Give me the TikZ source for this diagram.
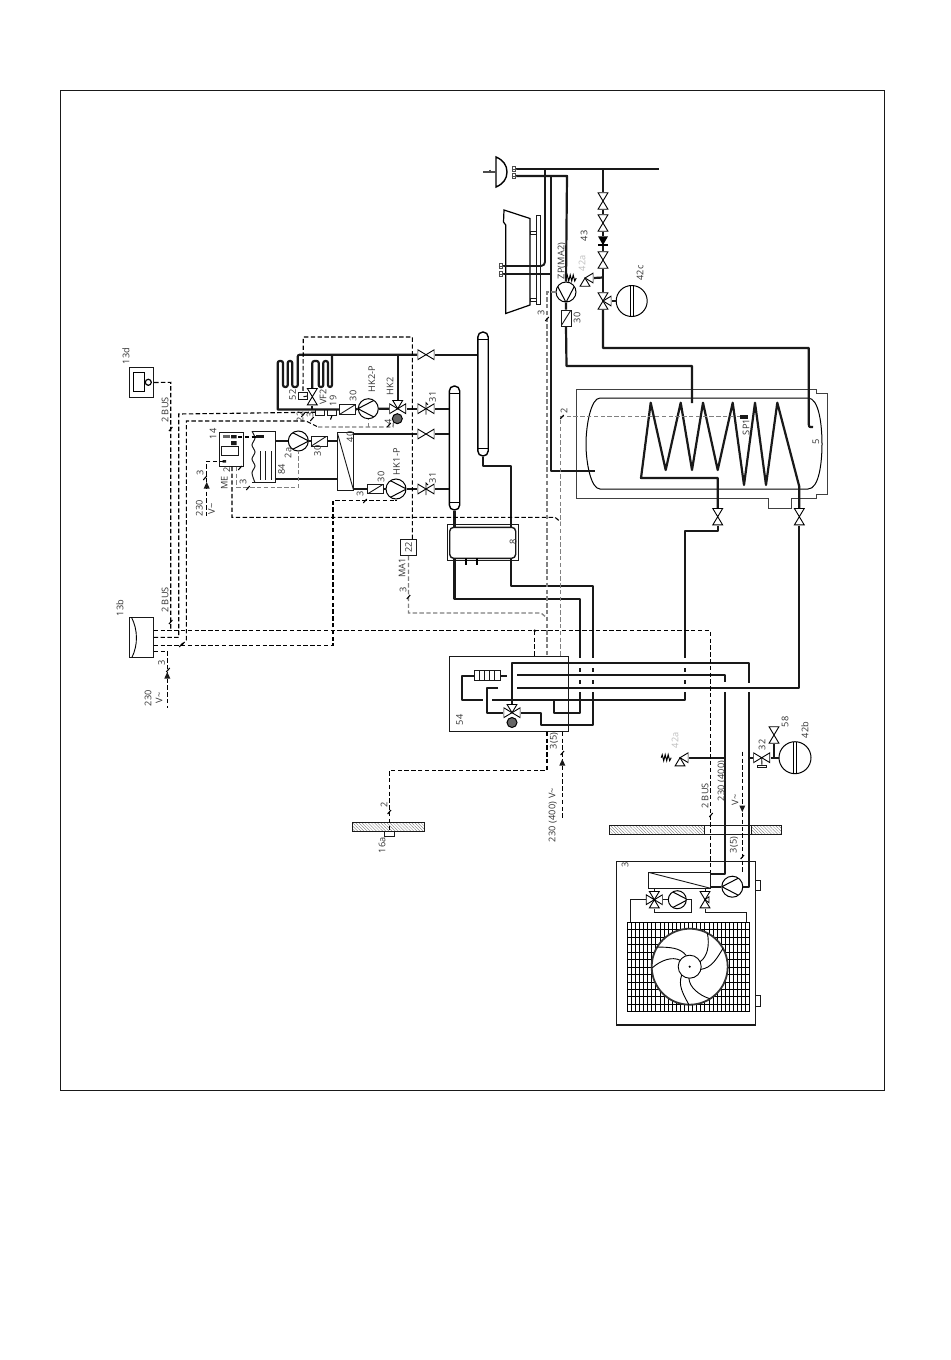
\documentclass[tikz,border=0pt]{standalone}
\usepackage{fontspec}
\setmainfont[LetterSpace=2]{Open Sans}
\usetikzlibrary{patterns.meta}
\tikzset{
    pipe/.style={line width=1.1pt,black!90,line join=round},
    thinpipe/.style={line width=.5pt,black!90},
    wire/.style={line width=.55pt,black,dash pattern=on 2.2pt off 1.2pt},
    greywire/.style={line width=.65pt,black!50,dash pattern=on 2.2pt off 1.2pt},
    lbl/.style={rotate=90,inner sep=0,font=\fontsize{4.6}{5}\selectfont,text=black!80},
    box/.style={draw,black!90,line width=.45pt,inner sep=0},
    valve/.style={inner sep=0,minimum size=8.4pt,path picture={
        \coordinate (c) at (path picture bounding box.center);
        \foreach \ang in {#1} {\draw[line width=.45pt,fill=white] (c) ++(\ang+31:4.8pt) -- (c) -- ++(\ang-31:4.8pt) -- cycle;}}},
    pump/.style={circle,draw,fill=white,line width=.5pt,inner sep=0,minimum size=10pt,path picture={
        \coordinate (c) at (path picture bounding box.center);
        \draw[line width=.5pt] ([shift={(#1+125:5.2pt)}]c) -- ([shift={(#1:5.2pt)}]c) -- ([shift={(#1-125:5.2pt)}]c);}},
    motor/.style={circle,draw,fill=black!60,line width=.5pt,inner sep=0,minimum size=5pt},
    diag/.style={box,fill=white,path picture={\draw[line width=.45pt] (path picture bounding box.south west) -- (path picture bounding box.north east);}},
    diagb/.style={box,fill=white,path picture={\draw[line width=.45pt] (path picture bounding box.north west) -- (path picture bounding box.south east);}},
    capsule/.style={draw,line width=.7pt,fill=white,rounded corners=2.5pt,inner sep=0,minimum width=5.2pt,minimum height=62pt,path picture={
        \draw[line width=.4pt] ([yshift=-3.8pt]path picture bounding box.north west) -- ([yshift=-3.8pt]path picture bounding box.north east);
        \draw[line width=.4pt] ([yshift=3.8pt]path picture bounding box.south west) -- ([yshift=3.8pt]path picture bounding box.south east);}},
    expv/.style={circle,draw,line width=.5pt,inner sep=0,path picture={
        \draw[line width=.4pt] ([xshift=-.6pt]path picture bounding box.north) -- ([xshift=-.6pt]path picture bounding box.south);
        \draw[line width=.4pt] ([xshift=.6pt]path picture bounding box.north) -- ([xshift=.6pt]path picture bounding box.south);}},
    chkv/.style={inner sep=0,minimum width=5pt,minimum height=4.4pt,path picture={
        \fill (path picture bounding box.north west) -- (path picture bounding box.north east) -- (path picture bounding box.south) -- cycle;
        \draw[line width=.8pt] (path picture bounding box.south west) -- (path picture bounding box.south east);}},
    heat/.style={box,fill=white,minimum width=12.8pt,minimum height=5pt,path picture={
        \foreach \s in {-3.8,-1.3,1.3,3.8} {\draw[line width=.35pt] ([xshift=\s pt]path picture bounding box.north) -- ([xshift=\s pt]path picture bounding box.south);}}},
    wall/.style={box,minimum height=4.4pt,pattern={Lines[angle=-45,distance=1.1pt,line width=.15pt]},pattern color=black!55},
    wtick/.pic={\draw[line width=.55pt] (-1.7,2) -- (1.7,-2);},
    wtri/.pic={\fill[black!90] (-3,2.5) -- (3,2.5) -- (0,-4) -- cycle;},
    spring/.pic={\draw[line width=.5pt] (0,0) -- (-1.5,3) -- (-3,-3) -- (-4.5,3) -- (-6,-3) -- (-7.5,3) -- (-9,-3) -- (-10,0);}
}
\begin{document}
\begin{tikzpicture}[x=.5pt,y=-.5pt]
    \path[use as bounding box,fill=white] (0,0) rectangle (950,1360);
    \node[box,line width=.5pt,minimum width=412.3pt,minimum height=500pt] (frame) at (472.3,590) {};

    \node[box] (controlb) at (141.3,637.3) [minimum width=12pt,minimum height=20pt] {};
    \node[box] (controld) at (141.5,382.5) [minimum width=12.2pt,minimum height=15.2pt] {};
    \node[box,fill=white] (sensor) at (408.5,547.5) [minimum width=8pt,minimum height=8pt] {};
    \node[box,minimum width=59.5pt,minimum height=37.4pt] (cbox) at (508.8,693.7) {};
    \node[box,minimum width=12.2pt,minimum height=17.2pt] (box14) at (231.5,449.5) {};
    \node[box,minimum width=8.3pt,minimum height=4.6pt] (inner14) at (230,451.3) {};
    \fill[black!60] (223.3,435) rectangle (230,438.3);
    \fill[black!90] (231,435) rectangle (236.7,438.3) (231,441) rectangle (236.7,445) (222.7,460) rectangle (226,462.7);

    \draw[thinpipe] (252,431.3) -- (275.7,431.3) -- (275.7,482.7) -- (252,482.7);
    \draw[thinpipe] plot[smooth] coordinates {(252,431.3) (255,438) (252,445) (255,452) (252,459) (255,466) (252,473) (255,482.7)};
    \fill[black!90] (255.7,435) rectangle (264,438.3);
    \foreach \xv in {260,265,271} {\draw[thinpipe] (\xv,451) -- (\xv,480);}

    \draw[line width=.4pt,black!75] (576.7,389) -- (816.7,389) -- (816.7,393.5) -- (827.7,393.5) -- (827.7,494.3) -- (816.7,494.3) -- (816.7,498.7) -- (791,498.7) -- (791,508) -- (768,508) -- (768,498.7) -- (576.7,498.7) -- cycle;
    \draw[line width=.5pt] (600,398) -- (808,398) .. controls (819,398) and (822,425) .. (822,444) .. controls (822,463) and (819,489) .. (808,489) -- (600,489) .. controls (591,489) and (586,463) .. (586,444) .. controls (586,425) and (591,398) .. (600,398) -- cycle;

    \node[capsule] (capu) at (483,394) {};
    \node[capsule] (capl) at (454.5,448) {};
    \node[box,minimum width=35.5pt,minimum height=17.8pt] (bufo) at (482.8,542.2) {};
    \node[box,line width=.7pt,rounded corners=2pt,minimum width=33pt,minimum height=15.5pt] (buf) at (482.7,542.8) {};
    \draw[line width=.8pt] (465.7,558.3) -- (465.7,565) (476.7,558.3) -- (476.7,565);

    \draw[line width=.6pt] (504,210) -- (530,218.5) -- (530,305) -- (505.7,313.5) -- (505.7,225) -- (503.5,222) -- cycle;
    \node[box,minimum width=2pt,minimum height=44.7pt] (plate) at (538,259.7) {};
    \node[box,minimum width=3pt,minimum height=1.5pt] (stuba) at (533,232.5) {};
    \node[box,minimum width=3pt,minimum height=1.5pt] (stubb) at (533,299.5) {};
    \draw[line width=.7pt] (496,157) .. controls (503,160) and (507,165) .. (507,172) .. controls (507,179) and (503,184) .. (496,187) -- cycle;
    \draw[line width=.9pt,black!70] (483,172) -- (496,172) (490,169.5) -- (490,172);

    \node[valve={90,270}] (vcolda) at (603,201) {};
    \node[valve={90,270}] (vcoldb) at (603,223) {};
    \node[chkv] (vcheck) at (603,240.7) {};
    \node[valve={90,270}] (vcoldc) at (603,260) {};
    \node[valve={90,270,0}] (vexpc) at (603,301) {};
    \node[expv,minimum size=15.5pt] (expc) at (631.7,301) {};
    \node[valve={0,270}] (vsafec) at (585,278) {};
    \node[pump=-90] (pzp) at (566,292) {};
    \node[diag,minimum width=5pt,minimum height=8pt] (czp) at (566,318) {};
    \coordinate (coldl) at (515,169);
    \coordinate (coldr) at (659,169);
    \coordinate (hotl) at (515,176);

    \draw[pipe] (coldl) -- (coldr);
    \draw[pipe] (603,169) -- (vcolda.north) (vcolda.south) -- (vcoldb.north) (vcoldb.south) -- (vcheck.north) (vcheck.south) -- (vcoldc.north) (vcoldc.south) -- (vexpc.north);
    \draw[pipe] (vexpc.south) -- (603,348) -- (808.7,348) -- (808.7,424) .. controls (808.7,427) .. (813,427);
    \draw[pipe] (vexpc.east) -- (expc.west);
    \draw[pipe] (603,277.5) -- (vsafec.east);
    \draw[pipe] (hotl) -- (567,176) -- (pzp.north);
    \draw[pipe] (pzp.south) -- (czp.north) (czp.south) -- (566.5,366) -- (692,366) -- (692,403);
    \draw[pipe] (551,176) -- (551,471) -- (595,471);
    \draw[pipe] (503,274) -- (551,274);
    \draw[pipe,line width=.95pt,rounded corners=2pt] (503,266) -- (545,266) -- (545,169);
    \foreach \tapx/\tapy in {514/169,514/176,501/266,501/274} {\draw[line width=.4pt,black!70,fill=white] (\tapx-1.2,\tapy-2.5) rectangle (\tapx+1.2,\tapy+2.5); \draw[line width=.5pt,black!70] (\tapx-2.5,\tapy) -- (\tapx+2.5,\tapy);}
    \path (vsafec.west) pic {spring};

    \node[valve={90,270}] (vcoila) at (717.7,516.7) {};
    \node[valve={90,270}] (vcoilb) at (799.3,516.7) {};
    \draw[pipe] (vcoila.north) -- (717.7,478) -- (641,478) -- (650.7,402.7) -- (665.7,470) -- (680.7,402.7) -- (692,470) -- (703,402.7) -- (717.7,470) -- (732.7,402.7) -- (744,485) -- (755,402.7) -- (766,485) -- (777.3,402.7) -- (799.3,486.7) -- (vcoilb.north);
    \draw[pipe] (vcoila.south) -- (717.7,531) -- (685,531) -- (685,658);
    \draw[pipe] (vcoilb.south) -- (799.3,687.7) -- (517,687.7);

    \node[valve={0,180}] (vhktop) at (426,354.7) {};
    \node[valve={0,180}] (vhkb) at (426,408.7) {};
    \node[valve={0,180}] (vhkm) at (426,434) {};
    \node[valve={0,180}] (vhkl) at (426,489) {};
    \draw[line width=.4pt] (vhkb.center) -- ++(0,-6) -- ++(2,2) (vhkb.center) -- ++(0,6) (vhkl.center) -- ++(0,-6) -- ++(2,2) (vhkl.center) -- ++(0,6);
    \node[valve={0,180,90}] (vmix) at (397.7,408.7) {};
    \node[motor] (mmix) at (397.3,418.7) {};
    \node[valve={90,270}] (vftwo) at (312.3,396.7) {};
    \node[box,fill=white,minimum width=4.3pt,minimum height=3.3pt] (senstwo) at (303,396) {};
    \node[box,fill=white,minimum width=4.3pt,minimum height=2.8pt] (senstra) at (320,412.2) {};
    \node[box,fill=white,minimum width=4.3pt,minimum height=2.8pt] (sensflow) at (332,412.2) {};
    \node[pump=180] (phktwo) at (368.3,408.7) {};
    \node[pump=0] (phkone) at (396,489) {};
    \node[pump=0] (ptwoa) at (298.3,441) {};
    \node[diag,minimum width=7.8pt,minimum height=4.8pt] (chktwo) at (347.5,409.5) {};
    \node[diag,minimum width=7.8pt,minimum height=4.8pt] (chkone) at (375.5,489) {};
    \node[diag,minimum width=7.8pt,minimum height=5pt] (chkstor) at (319.2,441) {};
    \node[diagb,minimum width=8.2pt,minimum height=29pt] (hxfour) at (345.5,461.7) {};

    \draw[pipe] (vhkb.west) -- (vmix.east) (vhkb.east) -- (capl.west |- vhkb.east);
    \draw[pipe] (vmix.west) -- (phktwo.east) (phktwo.west) -- (chktwo.east);
    \draw[pipe,rounded corners=1pt] (chktwo.west) [sharp corners] -- (277.7,409.5) [rounded corners=1pt] -- (277.7,361) -- (283,361) -- (283,387) -- (287.7,387) -- (287.7,361) -- (292.3,361) -- (292.3,387) -- (297.7,387) -- (297.7,354.7) [sharp corners] -- (vhktop.west);
    \draw[pipe] (vhktop.east) -- (capu.west |- vhktop.east);
    \draw[pipe] (397.7,354.7) -- (vmix.north);
    \draw[pipe] (vftwo.south) -- (312.3,409.5);
    \draw[pipe,rounded corners=1pt] (vftwo.north) -- (312.3,361) -- (318.7,361) -- (318.7,387) -- (323.3,387) -- (323.3,361) -- (328,361) -- (328,387) -- (332,387) -- (332,354.7);
    \draw[thinpipe] (senstwo.east) -- (vftwo.west);
    \draw[pipe] (vhkm.east) -- (capl.west |- vhkm.east);
    \draw[pipe] (353.7,434) -- (vhkm.west);
    \draw[pipe] (353.7,489) -- (chkone.west) (chkone.east) -- (phkone.west) (phkone.east) -- (vhkl.west) (vhkl.east) -- (capl.west |- vhkl.east);
    \draw[pipe] (275.7,441) -- (ptwoa.west) (ptwoa.east) -- (chkstor.west) (chkstor.east) -- (337.3,441);
    \draw[pipe] (275.7,479) -- (337.3,479);

    \draw[pipe] (capl.south) -- (capl.south |- buf.north);
    \draw[pipe] (capu.south) -- (483,466) -- (511,466) -- (511,527.3);
    \draw[pipe] (454.5,558.3) -- (454.5,599) -- (580,599) -- (580,658);
    \draw[pipe] (511,558.3) -- (511,586) -- (593,586) -- (593,658);
    \foreach \xv in {580,593,685} {\draw[pipe] (\xv,668) -- (\xv,672) (\xv,680) -- (\xv,684);}

    \node[heat] (heater) at (487.2,675.7) {};
    \node[valve={0,180,90}] (vfour) at (512,712.7) {};
    \node[motor] (mfour) at (512,722.5) {};
    \draw[pipe] (vfour.north) -- (512,662.7) -- (749,662.7) -- (749,683);
    \draw[pipe] (517,675) -- (725,675) -- (725,682);
    \draw[pipe] (heater.east) -- (507,675.7);
    \draw[pipe] (heater.west) -- (462,675.7) -- (462,700) -- (483,700);
    \draw[pipe] (492,700) -- (685,700) -- (685,692);
    \draw[pipe] (498,687.7) -- (487,687.7) -- (487,712.7) -- (vfour.west);
    \draw[pipe] (vfour.east) -- (541,712.7) -- (541,725) -- (593,725) -- (593,692);
    \draw[pipe] (554,700) -- (554,712.7) -- (580,712.7) -- (580,692);

    \node[valve={0,270}] (vsafeb) at (680,757.7) {};
    \node[valve={0,180}] (vexpb) at (761.7,757.7) {};
    \node[valve={90,270}] (vdrain) at (774,735) {};
    \node[expv,minimum size=16pt] (expb) at (795,757.7) {};
    \node[box,minimum width=4.2pt,minimum height=1.4pt] (vbase) at (761.9,766.4) {};
    \draw[line width=.45pt] (vexpb.center) -- (vbase.north);
    \draw[pipe] (vsafeb.east) -- (725,757.7);
    \draw[pipe] (749,757.7) -- (vexpb.west) (vexpb.east) -- (expb.west);
    \draw[pipe] (vdrain.south) -- (774,757.7);
    \path (vsafeb.west) pic {spring};

    \node[wall,minimum width=36pt] (wallsens) at (388.3,826.8) {};
    \node[box,minimum width=5pt,minimum height=2.5pt] (sensout) at (389.3,833.8) {};
    \node[wall,minimum width=47.5pt] (wallla) at (656.8,830) {};
    \node[box,minimum width=23.5pt,minimum height=4.4pt] (wallgap) at (727.8,830) {};
    \node[wall,minimum width=15pt] (walllb) at (766.3,830) {};

    \node[box,line width=.55pt,minimum width=69.3pt,minimum height=81.8pt] (unit) at (686,943.2) {};
    \node[box,minimum width=2.4pt,minimum height=5pt] (lugup) at (757.6,885.7) {};
    \node[box,minimum width=2.4pt,minimum height=5.4pt] (lugdn) at (757.6,1000.7) {};
    \node[diagb,minimum width=31.2pt,minimum height=8pt] (cond) at (679.5,880.3) {};
    \node[pump=180] (punit) at (732.3,886.7) [minimum size=10.5pt] {};
    \node[valve={0,90,180,270}] (vrev) at (654.3,899.7) {};
    \node[pump=0] (comp) at (677.3,899.7) [minimum size=9pt] {};
    \node[valve={90,270}] (vexp) at (705,899.7) {};
    \draw[line width=.4pt] (vexp.center) -- ++(4,-3) -- ++(0,6) -- cycle;
    \draw[pipe] (725,692) -- (725,874) -- (710.7,874);
    \draw[pipe] (749,692) -- (749,886.7) -- (punit.east);
    \draw[pipe] (punit.west) -- (710.7,886.7);
    \draw[thinpipe] (654.3,888.3) -- (vrev.north) (vrev.east) -- (comp.west);
    \draw[thinpipe] (vrev.south) -- (654.3,912.3) -- (691.7,912.3) -- (691.7,899.7) -- (comp.east);
    \draw[thinpipe] (vrev.west) -- (630.7,899.7) -- (630.7,922.3);
    \draw[thinpipe] (705,888.3) -- (vexp.north);
    \draw[thinpipe] (vexp.south) -- (705,912.3) -- (746.7,912.3) -- (746.7,922.3);
    \foreach \i in {0,...,30} {\draw[line width=.4pt] (627.3+\i*4.08,922.3) -- (627.3+\i*4.08,1011.7);}
    \foreach \j in {0,...,12} {\draw[line width=.4pt] (627.3,922.3+\j*7.45) -- (749.7,922.3+\j*7.45);}
    \node[circle,draw,black!80,fill=white,line width=.9pt,inner sep=0,minimum size=38pt] (fan) at (689.7,966.7) {};
    \begin{scope}[shift={(fan.center)}]
        \foreach \r in {0,120,240} {
            \draw[line width=.45pt,rotate=\r] (11.3,2.7) .. controls (22,1) and (27,-8) .. (33.3,-18.3);
            \draw[line width=.45pt,rotate=\r] (10.3,-5) .. controls (18,-10) and (20,-22) .. (17.7,-33.3);
        }
    \end{scope}
    \node[circle,draw,fill=white,line width=.45pt,inner sep=0,minimum size=11.5pt] (hub) at (fan.center) {};
    \fill (fan.center) circle (.6pt);

    \node[draw,inner sep=0,minimum width=5.5pt,minimum height=9.3pt,line width=.45pt] (displayd) at (138.8,382) {};
    \node[circle,draw,fill=white,inner sep=0,minimum size=3pt,line width=.6pt] (knobd) at (148.3,382.3) {};
    \draw[line width=.45pt] (131.5,617.3) .. controls (138,630) and (138,645) .. (132,657.3);

    \draw[wire] (controld.east) -- (170.7,382.3) -- (170.7,630.7);
    \draw[wire] (controlb.east |- 0,630.7) -- (710.3,630.7) -- (710.3,872);
    \draw[wire] (controlb.east |- 0,637.3) -- (178.7,637.3) -- (178.7,414) -- (senstra.west);
    \draw[wire] (controlb.east |- 0,645.3) -- (333,645.3) -- (333,500.3) -- (396,500.3) -- (phkone.south);
    \draw[wire] (181.7,645.3) -- (186.3,640) -- (186.3,421) -- (306,421) -- (318,427);
    \draw[greywire] (318,427) -- (393,427) -- (mmix.south west);
    \draw[greywire] (368.3,427) -- (phktwo.south);
    \draw[wire] (sensflow.south) -- (330,421);
    \draw[wire] (sensor.north -| 412.3,0) -- (412.3,337) -- (303.3,337) -- (senstwo.north);
    \draw[wire] (232,466.7) -- (232,517.3) -- (555,517.3) -- (560.7,522);
    \draw[greywire] (741,416.7) -- (560.7,416.7) -- (560.7,656.3);
    \draw[greywire] (pzp.west) -- (547,292) -- (547,656.3);
    \draw[greywire] (sensor.south) -- (408.5,613) -- (541,613) -- (547,618);
    \draw[wire] (534.7,630.7) -- (534.7,656.3);
    \fill (534.7,630.7) circle (.7pt);
    \draw[wire] (224,461.3) -- (206.7,461.3) -- (206.7,517);
    \draw[greywire] (236.7,466.7) -- (236.7,487.3) -- (298.3,487.3) -- (ptwoa.south);
    \draw[wire] (238,437) -- (255.7,437);
    \draw[wire] (controlb.east |- 0,651.3) -- (167.3,651.3) -- (167.3,707.7);
    \draw[wire] (547,731.7) -- (547,770.3) -- (389.3,770.3) -- (sensout.north);
    \draw[wire] (562.3,731.7) -- (562.3,819);
    \draw[wire] (742.3,751.7) -- (742.3,874);
    \fill[black!90] (740,414.5) rectangle (748,418.8);

    \path (167.3,676) pic {wtri} (206.7,486) pic {wtri} (562.3,763) pic {wtri} (742.3,808) pic[rotate=180] {wtri};
    \foreach \tx/\ty in {170.7/429,240/468,248/488,205/478,365/501,168/670,170.7/622,181/645,389.3/812,562.3/753,711/815,742.3/857,547/319,408.5/597,562/417,303/415,312/419,389/425} {\path (\tx,\ty) pic {wtick};}

    \node[lbl] (lthd) at (126,356) {13d};
    \node[lbl] (lbusd) at (165,410) {2 BUS};
    \node[lbl] (lfourt) at (213,434) {14};
    \node[lbl] (lfivetwo) at (292.7,395) {52};
    \node[lbl] (lvf) at (323,397) {VF2};
    \node[lbl] (lnine) at (333,401) {19};
    \node[lbl] (lchktwo) at (353,396) {30};
    \node[lbl] (lphktwo) at (371.7,379) {HK2-P};
    \node[lbl] (lhktwo) at (390,386) {HK2};
    \node[lbl] (lvhkb) at (432.7,396.7) {31};
    \node[lbl] (lww) at (300,416.7) {22};
    \node[lbl] (lwthree) at (310,415) {3};
    \node[lbl] (lwfour) at (388,421.7) {4};
    \node[lbl] (lhx) at (350,437) {40};
    \node[lbl] (ltwoa) at (288,453) {2a};
    \node[lbl] (lchkstor) at (317.7,450.7) {30};
    \node[lbl] (leightfour) at (281.7,469.3) {84};
    \node[lbl] (lphkone) at (396.7,461.7) {HK1-P};
    \node[lbl] (lchkone) at (381,476.7) {30};
    \node[lbl] (lvhkl) at (432.7,477.7) {31};
    \node[lbl] (lwhk) at (360,494) {3};
    \node[lbl] (lwstor) at (243,482) {3};
    \node[lbl] (lme) at (224.3,483) {ME};
    \node[lbl] (lwme) at (226.7,470) {2};
    \node[lbl] (lwpow) at (200,473) {3};
    \node[lbl] (lvpow) at (199.3,508) {230};
    \node[lbl] (lvac) at (211.7,509) {V\textasciitilde};
    \node[lbl] (lsens) at (sensor) {22};
    \node[lbl] (lma) at (402,568) {MA1};
    \node[lbl] (lwma) at (403,590) {3};
    \node[lbl] (lbuf) at (513,542) {8};
    \node[lbl] (lthb) at (120,608) {13b};
    \node[lbl] (lbusb) at (165,600) {2 BUS};
    \node[lbl] (lwb) at (161.7,663) {3};
    \node[lbl] (lvb) at (148,698) {230};
    \node[lbl] (lvacb) at (159,698) {V\textasciitilde};
    \node[lbl] (lsixt) at (382,845) {16a};
    \node[lbl] (lwsens) at (384,805) {2};
    \node[lbl] (lcbox) at (459.6,720) {54};
    \node[lbl] (lwcbox) at (554,741) {3(5)};
    \node[lbl] (lvcbox) at (552.7,815) {230 (400) V\textasciitilde};
    \node[lbl] (lzp) at (561.7,261) {ZP(MA2)};
    \node[lbl] (lczp) at (577,318) {30};
    \node[lbl] (lfourthree) at (584,236) {43};
    \node[lbl,text=black!25] (lsafec) at (582,263) {42a};
    \node[lbl] (lexpc) at (640,273) {42c};
    \node[lbl] (lwzp) at (541,313) {3};
    \node[lbl] (lsp) at (746,427) {SP1};
    \node[lbl] (ltank) at (816,442.3) {5};
    \node[lbl] (lwsp) at (564,410.7) {2};
    \node[lbl,text=black!25] (lsafeb) at (675,740) {42a};
    \node[lbl] (lvexpb) at (762,745) {32};
    \node[lbl] (ldrain) at (785,722) {58};
    \node[lbl] (lexpb) at (805,730) {42b};
    \node[lbl] (lbusu) at (705,796) {2 BUS};
    \node[lbl] (lvu) at (721.7,781) {230 (400)};
    \node[lbl] (lvacu) at (735,800) {V\textasciitilde};
    \node[lbl] (lwu) at (734,845) {3(5)};
    \node[lbl] (lunit) at (625,865) {3};
\end{tikzpicture}
\end{document}
